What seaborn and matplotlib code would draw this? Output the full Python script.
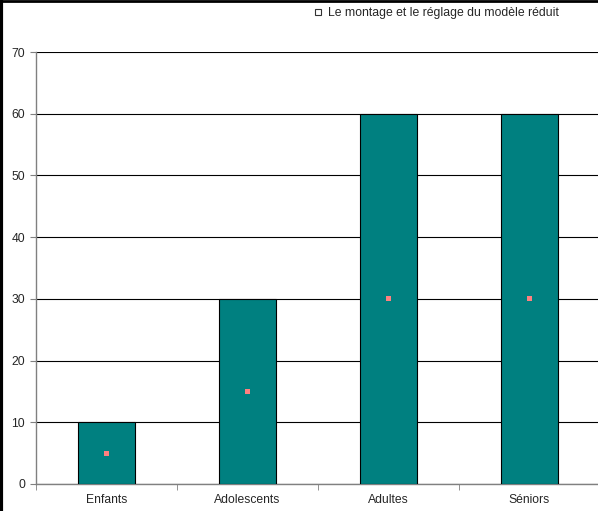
import numpy as np
import pandas as pd
import matplotlib
matplotlib.use('Agg')
import matplotlib.pyplot as plt
from matplotlib.lines import Line2D
import seaborn as sns

categories = ['Enfants', 'Adolescents', 'Adultes', 'Séniors']
bar_values = [10, 30, 60, 60]
point_values = [5, 15, 30, 30]
legend_label = 'Le montage et le réglage du modèle réduit'

df = pd.DataFrame({'Categorie': categories, 'Valeur': bar_values, 'Point': point_values})

sns.set_style('white')
plt.rcParams['font.family'] = ['Liberation Sans', 'DejaVu Sans']

fig = plt.figure(figsize=(5.98, 5.11), dpi=100)
ax = fig.add_axes([36 / 598, 1 - 484 / 511, 564 / 598, 432 / 511])

# Bars
sns.barplot(data=df, x='Categorie', y='Valeur', color='#008080', saturation=1,
            width=0.4, edgecolor='black', linewidth=0.8, ax=ax, zorder=3)

# Points in the middle of bars
sns.scatterplot(data=df, x='Categorie', y='Point', marker='s', s=14, color='#FF8080',
                edgecolor='none', ax=ax, zorder=4, legend=False)

ax.set_xlim(-0.5, 3.5)
ax.set_ylim(0, 70)
ax.set_yticks(np.arange(0, 71, 10))
ax.yaxis.grid(True, color='black', linewidth=0.8)
ax.set_axisbelow(True)
ax.set_xlabel('')
ax.set_ylabel('')

for s in ['top', 'right']:
    ax.spines[s].set_visible(False)
for s in ['left', 'bottom']:
    ax.spines[s].set_color('#808080')
    ax.spines[s].set_linewidth(1)

ax.tick_params(axis='y', left=True, length=4, color='#808080', labelsize=8.7, pad=4)
ax.tick_params(axis='x', bottom=False, labelsize=8.7, pad=4)
ax.set_xticks(np.arange(-0.5, 3.6, 1), minor=True)
ax.tick_params(axis='x', which='minor', bottom=True, length=4, color='#808080')

# Legend
handle = Line2D([], [], marker='s', linestyle='none', markersize=4,
                markerfacecolor='white', markeredgecolor='#333333', markeredgewidth=0.8)
fig.legend([handle], [legend_label], loc='upper left', bbox_to_anchor=(313 / 598, 1 - 7 / 511),
           frameon=False, fontsize=8.8, handlelength=0.8, handletextpad=0.4,
           borderaxespad=0, borderpad=0)

# Figure frame on left and top
fig.add_artist(Line2D([0.0025, 0.0025], [0, 1], color='black', linewidth=3, transform=fig.transFigure))
fig.add_artist(Line2D([0, 1], [0.998, 0.998], color='black', linewidth=2, transform=fig.transFigure))

fig.savefig('out.png', dpi=100)
